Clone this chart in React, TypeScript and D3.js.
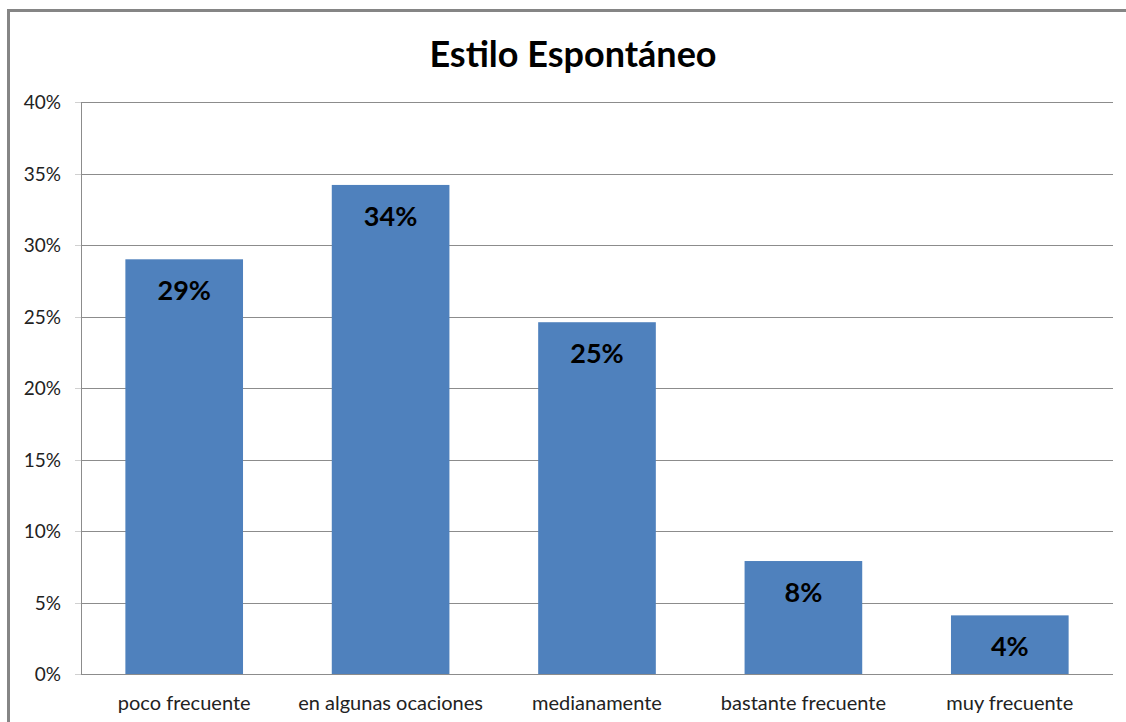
import React from "react";
import * as d3 from "d3";

const categories = ["poco frecuente", "en algunas ocaciones", "medianamente", "bastante frecuente", "muy frecuente"];
const values = [0.29, 0.342, 0.246, 0.079, 0.041];
const labels = ["29%", "34%", "25%", "8%", "4%"];
const yTicks = [0, 0.05, 0.1, 0.15, 0.2, 0.25, 0.3, 0.35, 0.4];
const title = "Estilo Espontáneo";

const W = 1126;
const H = 722;
const FONT = "Lato, 'Open Sans', sans-serif";

export default function App() {
  const left = 81, right = 1113, top = 102, bottom = 674;
  const x = d3.scaleBand<string>().domain(categories).range([left, right]).paddingInner(0.43).paddingOuter(0.215);
  const y = d3.scaleLinear().domain([0, 0.4]).range([bottom, top]);
  const fmt = d3.format(".0%");
  return (
    <svg width={W} height={H} style={{ position: "absolute", left: 0, top: 0, background: "#fff" }}>
      <rect x={0} y={0} width={W} height={H} fill="#fff" />
      <rect x={8.5} y={10.5} width={W + 20} height={H + 20} fill="none" stroke="#858585" strokeWidth={3} />
      <text x={573} y={67} textAnchor="middle" fontFamily={FONT} fontWeight="bold" fontSize={36} fill="#000">{title}</text>
      {yTicks.map((t) => (
        <g key={t}>
          <line x1={left} x2={right} y1={Math.round(y(t)) + 0.5} y2={Math.round(y(t)) + 0.5} stroke="#8c8c8c" strokeWidth={1} />
          <line x1={left - 6} x2={left} y1={Math.round(y(t)) + 0.5} y2={Math.round(y(t)) + 0.5} stroke="#d0d0d0" strokeWidth={1} />
          <text x={61} y={y(t) + 7} textAnchor="end" fontFamily={FONT} fontSize={19} fill="#222">{fmt(t)}</text>
        </g>
      ))}
      <line x1={left + 0.5} x2={left + 0.5} y1={top} y2={bottom} stroke="#8c8c8c" strokeWidth={1} />
      {categories.map((c, i) => (
        <g key={c}>
          <rect x={x(c)} y={y(values[i])} width={x.bandwidth()} height={bottom - y(values[i])} fill="#4f81bd" />
          <text x={(x(c) as number) + x.bandwidth() / 2} y={y(values[i]) + 41} textAnchor="middle" fontFamily={FONT} fontWeight="bold" fontSize={27} fill="#000">{labels[i]}</text>
          <text x={(x(c) as number) + x.bandwidth() / 2} y={710} textAnchor="middle" fontFamily={FONT} fontSize={20} fill="#222">{c}</text>
        </g>
      ))}
    </svg>
  );
}
